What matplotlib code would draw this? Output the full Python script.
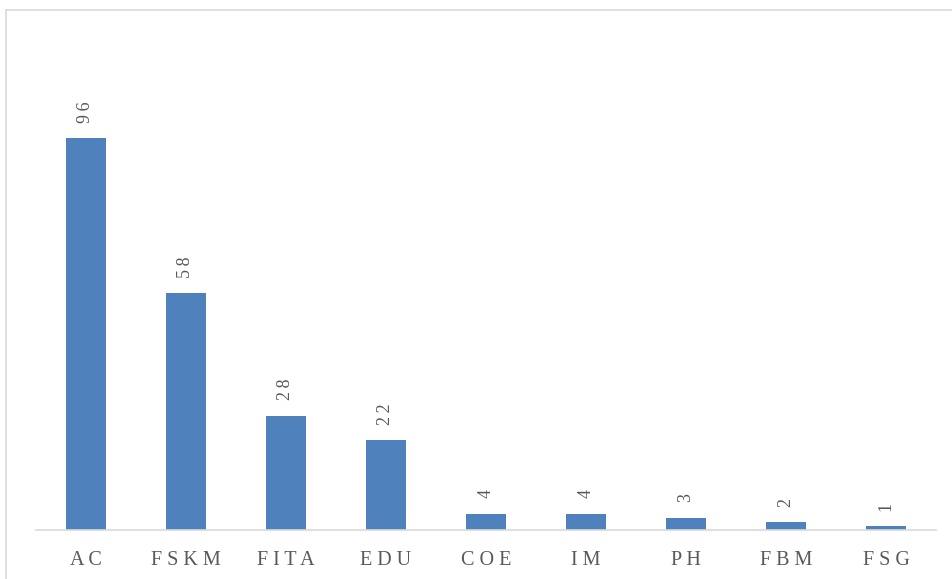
import matplotlib.pyplot as plt
from matplotlib.lines import Line2D

# 数据
categories = ["AC", "FSKM", "FITA", "EDU", "COE", "IM", "PH", "FBM", "FSG"]
values = [96, 58, 28, 22, 4, 4, 3, 2, 1]

plt.rcParams['font.family'] = ['Liberation Serif', 'DejaVu Serif']

fig = plt.figure(figsize=(9.53, 5.79), dpi=100)
W, H = 953, 579
# 坐标区域：x 36-936, y 30-530 (像素)
ax = fig.add_axes([36 / W, (H - 530) / H, 900 / W, 500 / H])

x = range(len(categories))
ax.bar(x, values, width=0.4, color="#4F81BD", zorder=2)
ax.set_xlim(-0.5, len(categories) - 0.5)
ax.set_ylim(0, 500 / 4.083)

# 数据标签（竖排）
for i, v in enumerate(values):
    ax.annotate("\u2009".join(str(v)), (i, v), xytext=(0, 11), textcoords="offset points",
                rotation=90, ha="center", va="bottom", fontsize=13, color="#595959")

ax.set_xticks(list(x))
ax.set_xticklabels([" ".join(c) for c in categories], fontsize=14.5, color="#595959")
ax.tick_params(axis="x", length=0, pad=15)
ax.set_yticks([])
for s in ["top", "right", "left"]:
    ax.spines[s].set_visible(False)
ax.spines["bottom"].set_color("#D9D9D9")
ax.spines["bottom"].set_linewidth(1.2)

# 外框
fig.add_artist(Line2D([6 / W, 1], [1 - 10 / H, 1 - 10 / H], color="#D9D9D9", lw=1.2))
fig.add_artist(Line2D([6 / W, 6 / W], [0, 1 - 10 / H], color="#D9D9D9", lw=1.2))

plt.savefig("out.png", dpi=100)
